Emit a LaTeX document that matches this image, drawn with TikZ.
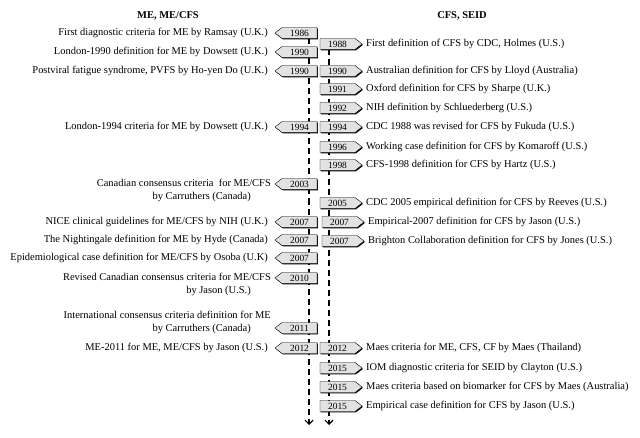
\documentclass[tikz,border=0pt]{standalone}
\usepackage{fontspec}
\setmainfont{Liberation Serif}
\usetikzlibrary{arrows.meta}
\pgfdeclarelayer{lines}
\pgfdeclarelayer{boxes}
\pgfsetlayers{lines,boxes,main}
\definecolor{boxgray}{RGB}{226,226,226}
\tikzset{
  yr/.style={minimum width=35bp, minimum height=11bp, inner sep=0pt, outer sep=0pt,
    font=\fontsize{9.5}{10}\selectfont},
  lt/.style={anchor=east, inner sep=0pt, font=\fontsize{10.5}{13}\selectfont},
  rt/.style={anchor=west, inner sep=0pt, font=\fontsize{10.5}{13}\selectfont},
  lt2/.style={anchor=north east, align=right, inner sep=0pt, font=\fontsize{10.5}{13}\selectfont},
  hd/.style={inner sep=0pt, font=\fontsize{10.5}{13}\selectfont\bfseries},
  boxfill/.style={fill=boxgray, draw=black, line width=0.4bp},
  boxshadow/.style={fill=black},
  tl/.style={line width=1.6bp, dash pattern=on 6bp off 4bp,
    -{Straight Barb[length=4bp,width=8bp,line width=1.2bp]}},
}
\newcommand\pentL[1]{%
  \begin{pgfonlayer}{boxes}
  \fill[boxshadow] ([shift={(0.9,0.9)}]#1.north east) -- ([shift={(0.9,0.9)}]#1.north west)
     -- ([shift={(-6.1,0.9)}]#1.west) -- ([shift={(0.9,0.9)}]#1.south west)
     -- ([shift={(0.9,0.9)}]#1.south east) -- cycle;
  \path[boxfill] (#1.north east) -- (#1.north west) -- ([shift={(-7,0)}]#1.west)
     -- (#1.south west) -- (#1.south east) -- cycle;
  \end{pgfonlayer}}
\newcommand\pentR[1]{%
  \begin{pgfonlayer}{boxes}
  \fill[boxshadow] ([shift={(0.9,0.9)}]#1.north west) -- ([shift={(0.9,0.9)}]#1.north east)
     -- ([shift={(7.9,0.9)}]#1.east) -- ([shift={(0.9,0.9)}]#1.south east)
     -- ([shift={(0.9,0.9)}]#1.south west) -- cycle;
  \path[boxfill] (#1.north west) -- (#1.north east) -- ([shift={(7,0)}]#1.east)
     -- (#1.south east) -- (#1.south west) -- cycle;
  \end{pgfonlayer}}
\newcommand\lyear[3]{\node[yr] (#1) at (299.5,#2) {#3}; \pentL{#1}}
\newcommand\ryear[4][337.5]{\node[yr] (#2) at (#1,#3) {#4}; \pentR{#2}}
\begin{document}
\begin{tikzpicture}[x=1bp,y=-1bp]
\useasboundingbox (0,0) rectangle (640,438);
% headers
\node[hd] (hl) at (168,16) {ME, ME/CFS};
\node[hd] (hr) at (462,16) {CFS, SEID};
% left column
\lyear{l1}{33}{1986}
\node[lt] (l1t) at (268,33) {First diagnostic criteria for ME by Ramsay (U.K.)};
\lyear{l2}{52}{1990}
\node[lt] (l2t) at (268,52) {London-1990 definition for ME by Dowsett (U.K.)};
\lyear{l3}{71}{1990}
\node[lt] (l3t) at (268,71) {Postviral fatigue syndrome, PVFS by Ho-yen Do (U.K.)};
\lyear{l4}{127}{1994}
\node[lt] (l4t) at (268,127) {London-1994 criteria for ME by Dowsett (U.K.)};
\lyear{l5}{184}{2003}
\node[lt2] (l5t) at (271,179.3) {Canadian consensus criteria \ for ME/CFS\\by Carruthers (Canada)\hspace*{20bp}};
\lyear{l6}{222}{2007}
\node[lt] (l6t) at (268,222) {NICE clinical guidelines for ME/CFS by NIH (U.K.)};
\lyear{l7}{240}{2007}
\node[lt] (l7t) at (268,240) {The Nightingale definition for ME by Hyde (Canada)};
\lyear{l8}{258}{2007}
\node[lt] (l8t) at (268,258) {Epidemiological case definition for ME/CFS by Osoba (U.K)};
\lyear{l9}{278}{2010}
\node[lt2] (l9t) at (271,273.3) {Revised Canadian consensus criteria for ME/CFS\\by Jason (U.S.)\hspace*{20bp}};
\lyear{l10}{328}{2011}
\node[lt2] (l10t) at (271,311.3) {International consensus criteria definition for ME\\by Carruthers (Canada)\hspace*{20bp}};
\lyear{l11}{348}{2012}
\node[lt] (l11t) at (268,348) {ME-2011 for ME, ME/CFS by Jason (U.S.)};
% right column
\ryear{r1}{44}{1988}
\node[rt] (r1t) at (366,44) {First definition of CFS by CDC, Holmes (U.S.)};
\ryear{r2}{71}{1990}
\node[rt] (r2t) at (366,71) {Australian definition for CFS by Lloyd (Australia)};
\ryear{r3}{89}{1991}
\node[rt] (r3t) at (366,89) {Oxford definition for CFS by Sharpe (U.K.)};
\ryear{r4}{108}{1992}
\node[rt] (r4t) at (366,108) {NIH definition by Schluederberg (U.S.)};
\ryear{r5}{127}{1994}
\node[rt] (r5t) at (366,127) {CDC 1988 was revised for CFS by Fukuda (U.S.)};
\ryear{r6}{147}{1996}
\node[rt] (r6t) at (366,147) {Working case definition for CFS by Komaroff (U.S.)};
\ryear{r7}{165}{1998}
\node[rt] (r7t) at (366,165) {CFS-1998 definition for CFS by Hartz (U.S.)};
\ryear{r8}{203}{2005}
\node[rt] (r8t) at (366,203) {CDC 2005 empirical definition for CFS by Reeves (U.S.)};
\ryear[339.5]{r9}{222}{2007}
\node[rt] (r9t) at (368,222) {Empirical-2007 definition for CFS by Jason (U.S.)};
\ryear[339.5]{r10}{241}{2007}
\node[rt] (r10t) at (368,241) {Brighton Collaboration definition for CFS by Jones (U.S.)};
\ryear{r11}{348}{2012}
\node[rt] (r11t) at (366,348) {Maes criteria for ME, CFS, CF by Maes (Thailand)};
\ryear{r12}{368}{2015}
\node[rt] (r12t) at (366,368) {IOM diagnostic criteria for SEID by Clayton (U.S.)};
\ryear{r13}{387}{2015}
\node[rt] (r13t) at (366,387) {Maes criteria based on biomarker for CFS by Maes (Australia)};
\ryear{r14}{406}{2015}
\node[rt] (r14t) at (366,406) {Empirical case definition for CFS by Jason (U.S.)};
% time lines
\coordinate (lend) at (309,425);
\coordinate (rend) at (329,425);
\begin{pgfonlayer}{lines}
\draw[tl] (lend |- l1.south) -- (lend);
\draw[tl] (rend |- r1.south) -- (rend);
\end{pgfonlayer}
\end{tikzpicture}
\end{document}
